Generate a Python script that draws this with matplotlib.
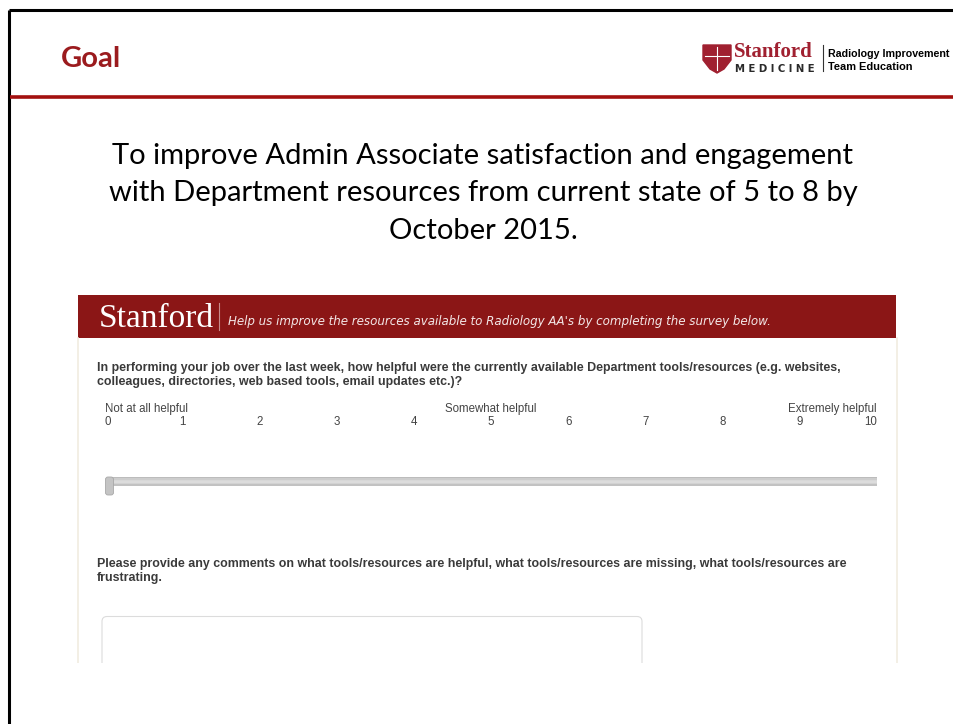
import matplotlib.pyplot as plt
from matplotlib.patches import Rectangle, FancyBboxPatch, Polygon

# slide text
slide_title = "Goal"
goal_lines = [
    "To improve Admin Associate satisfaction and engagement",
    "with Department resources from current state of 5 to 8 by",
    "October 2015.",
]

# survey screenshot content
banner_tagline = "Help us improve the resources available to Radiology AA's by completing the survey below."
question_lines = [
    "In performing your job over the last week, how helpful were the currently available Department tools/resources (e.g. websites,",
    "colleagues, directories, web based tools, email updates etc.)?",
]
scale_values = [0, 1, 2, 3, 4, 5, 6, 7, 8, 9, 10]
anchor_labels = ["Not at all helpful", "Somewhat helpful", "Extremely helpful"]
anchor_values = [0, 5, 10]
current_value = 0
comment_lines = [
    "Please provide any comments on what tools/resources are helpful, what tools/resources are missing, what tools/resources are",
    "frustrating.",
]

W, H = 954, 724
fig = plt.figure(figsize=(W / 100, H / 100), dpi=100)
ax = fig.add_axes([0, 0, 1, 1])
ax.set_xlim(0, W)
ax.set_ylim(H, 0)
ax.axis('off')

red = '#9b1b1e'

# slide frame
ax.plot([9, 9], [10, H], color='black', lw=2.2, solid_capstyle='butt')
ax.plot([9, W], [10, 10], color='black', lw=2.2, solid_capstyle='butt')
ax.plot([10, W], [97, 97], color='#a3100f', lw=2.6, solid_capstyle='butt')

ax.text(61, 67, slide_title, fontsize=21, fontweight='bold', color=red,
        family='Lato', va='baseline')

# logo (shield + wordmark)
shield = Polygon([[703, 45], [731, 45], [731, 60], [724, 69], [717, 73], [710, 69], [703, 60]],
                 closed=True, color='#a02030')
ax.add_patch(shield)
ax.plot([717, 717], [47, 70], color='white', lw=0.8)
ax.plot([705, 729], [56, 56], color='white', lw=0.8)
ax.text(734, 57, "Stanford", fontsize=15, fontweight='bold', color='#a02030',
        family='Liberation Serif', va='baseline')
ax.text(735, 71.5, "M E D I C I N E", fontsize=7.3, fontweight='bold', color='#2a2a2a',
        family='DejaVu Sans', va='baseline')
ax.plot([823.5, 823.5], [45, 71], color='#333333', lw=0.8)
ax.text(828, 57, "Radiology Improvement", fontsize=7.7, fontweight='bold', color='black',
        family='Liberation Sans', va='baseline')
ax.text(828, 70, "Team Education", fontsize=7.9, fontweight='bold', color='black',
        family='Liberation Sans', va='baseline')

# goal statement
for i, line in enumerate(goal_lines):
    ax.text(483, 164 + i * 37.5, line, fontsize=21, color='black', family='Lato',
            ha='center', va='baseline')

# screenshot frame
sx0, sx1, sy0, sy1 = 78, 896, 295, 663
ax.plot([sx0, sx0], [338, sy1], color='#f1ece0', lw=1.2)
ax.plot([sx1 + 1, sx1 + 1], [338, sy1], color='#f1ece0', lw=1.2)
ax.add_patch(Rectangle((sx0, sy0), sx1 - sx0, 43, color='#8b1616', lw=0))
ax.text(99, 327, "Stanford", fontsize=24, color='white', family='Liberation Serif',
        va='baseline')
ax.plot([219, 219], [303, 330], color='#c98a8a', lw=0.8)
ax.text(228, 325, banner_tagline, fontsize=8.55, style='italic', color='#f3e6e6',
        family='DejaVu Sans', va='baseline')

txt_kw = dict(fontsize=8.95, fontweight='bold', color='#3a3a3a', family='Liberation Sans',
              va='baseline')
for i, line in enumerate(question_lines):
    ax.text(97, 371 + i * 13.5, line, **txt_kw)

# slider scale
x_left, x_right = 105, 877
step = (x_right - x_left) / (len(scale_values) - 1)
lab_kw = dict(fontsize=8.3, color='#444444', family='Liberation Sans', va='baseline')
for lab, v in zip(anchor_labels, anchor_values):
    ha = 'left' if v == scale_values[0] else ('right' if v == scale_values[-1] else 'center')
    ax.text(x_left + v * step, 412, lab, ha=ha, **lab_kw)
for v in scale_values:
    ha = 'left' if v == scale_values[0] else ('right' if v == scale_values[-1] else 'center')
    ax.text(x_left + v * step, 425, str(v), ha=ha, **lab_kw)

# track with a soft vertical gradient
track_cols = ['#bcbcbc', '#cdcdcd', '#d8d8d8', '#dcdcdc', '#d2d2d2', '#c2c2c2']
for k, c in enumerate(track_cols):
    ax.add_patch(Rectangle((x_left + 4, 476.5 + k * 1.5), x_right - x_left - 4, 1.6, color=c, lw=0))
hx = x_left + current_value * step
ax.add_patch(FancyBboxPatch((hx + 0.5, 477), 8, 18, boxstyle='round,pad=0,rounding_size=2.5',
                            facecolor='#c4c4c4', edgecolor='#a8a8a8', lw=0.6, zorder=3))

for i, line in enumerate(comment_lines):
    ax.text(97, 567 + i * 13.5, line, **txt_kw)

# comment box (cut off at bottom of screenshot)
ax.add_patch(FancyBboxPatch((102, 616.5), 540, 80, boxstyle='round,pad=0,rounding_size=5',
                            facecolor='white', edgecolor='#dcdcdc', lw=0.8))
ax.add_patch(Rectangle((60, sy1), 860, 80, color='white', lw=0, zorder=5))

fig.savefig('out.png', dpi=100)
